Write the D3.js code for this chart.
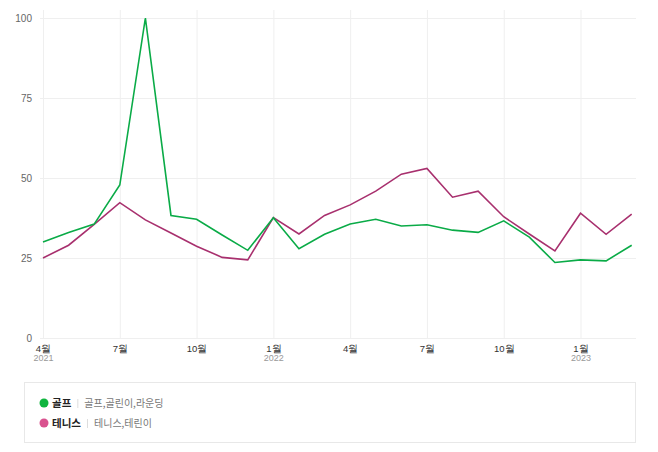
<!DOCTYPE html>
<html><head><meta charset="utf-8">
<script src="https://cdn.jsdelivr.net/npm/d3@7/dist/d3.min.js"></script>
<style>
html,body{margin:0;padding:0;background:#fff;}
svg{display:block;font-family:"Noto Sans CJK KR","Noto Sans",sans-serif;}
</style></head>
<body>
<svg id="c" width="658" height="452"></svg>
<script>
const months = ["2021-04","2021-05","2021-06","2021-07","2021-08","2021-09","2021-10","2021-11","2021-12",
  "2022-01","2022-02","2022-03","2022-04","2022-05","2022-06","2022-07","2022-08","2022-09","2022-10","2022-11","2022-12",
  "2023-01","2023-02","2023-03"];
const golf = [30, 33, 35.6, 47.8, 100, 38.3, 37.1, 32.2, 27.4, 37.6, 27.9, 32.4, 35.6, 37.1, 35, 35.4, 33.7, 33, 36.6, 31.5, 23.6, 24.4, 24.1, 29];
const tennis = [25, 29, 35.5, 42.3, 36.9, 32.8, 28.7, 25.2, 24.4, 37.6, 32.5, 38.3, 41.6, 45.9, 51.2, 53, 44, 45.9, 37.9, 32.5, 27.2, 39, 32.4, 38.7];
const yTicks = [0, 25, 50, 75, 100];
const xTickIdx = [0, 3, 6, 9, 12, 15, 18, 21];
const xTickMonth = ["4월", "7월", "10월", "1월", "4월", "7월", "10월", "1월"];
const xTickYear = ["2021", "", "", "2022", "", "", "", "2023"];
const seriesNames = ["골프", "테니스"];
const seriesKeywords = ["골프,골린이,라운딩", "테니스,테린이"];
const lineColors = ["#0aab47", "#a8306e"];
const dotColors = ["#10b53f", "#d9528f"];

const svg = d3.select("#c");
const x = d3.scaleLinear().domain([0, months.length - 1]).range([43, 631.7]);
const y = d3.scaleLinear().domain([0, 100]).range([338, 18]);

// horizontal grid
const gy = svg.append("g").attr("transform", "translate(40,0)")
  .call(d3.axisLeft(y).tickValues(yTicks).tickSize(-596).tickPadding(8));
gy.select(".domain").remove();
gy.selectAll(".tick line").attr("stroke", "#efefef");
gy.selectAll(".tick text").attr("fill", "#666").attr("font-size", 10).attr("x", -8);

// vertical grid + labels
const gx = svg.append("g").attr("transform", "translate(0,338)")
  .call(d3.axisBottom(x).tickValues(xTickIdx).tickSize(-328).tickFormat(""));
gx.select(".domain").remove();
gx.selectAll(".tick line").attr("stroke", "#efefef");
gx.selectAll(".tick").each(function(d, i) {
  const t = d3.select(this);
  t.append("text").attr("y", 14).attr("text-anchor", "middle")
    .attr("fill", "#333").attr("font-size", 9.5).text(xTickMonth[i]);
  if (xTickYear[i]) t.append("text").attr("y", 23).attr("text-anchor", "middle")
    .attr("fill", "#999").attr("font-size", 9).text(xTickYear[i]);
});

const line = d3.line().x((d, i) => x(i)).y(d => y(d));
[tennis, golf].forEach((s, k) => {
  const idx = k === 0 ? 1 : 0;
  svg.append("path").datum(s).attr("d", line).attr("fill", "none")
    .attr("stroke", lineColors[idx]).attr("stroke-width", 1.6).attr("stroke-linejoin", "miter");
});

// legend
svg.append("rect").attr("x", 24.5).attr("y", 382.5).attr("width", 611).attr("height", 60)
  .attr("fill", "#fff").attr("stroke", "#e8e8e8");
seriesNames.forEach((n, i) => {
  const yy = 403 + i * 20;
  svg.append("circle").attr("cx", 44).attr("cy", yy).attr("r", 4.5).attr("fill", dotColors[i]);
  const t = svg.append("text").attr("x", 52).attr("y", yy + 3.5).attr("font-size", 10.5)
    .attr("font-weight", "bold").attr("fill", "#222").text(n);
  const w = t.node().getComputedTextLength();
  svg.append("line").attr("x1", 52 + w + 6.5).attr("x2", 52 + w + 6.5)
    .attr("y1", yy - 4).attr("y2", yy + 5).attr("stroke", "#ddd");
  svg.append("text").attr("x", 52 + w + 13).attr("y", yy + 3.5).attr("font-size", 10)
    .attr("fill", "#777").text(seriesKeywords[i]);
});
</script>
</body></html>
